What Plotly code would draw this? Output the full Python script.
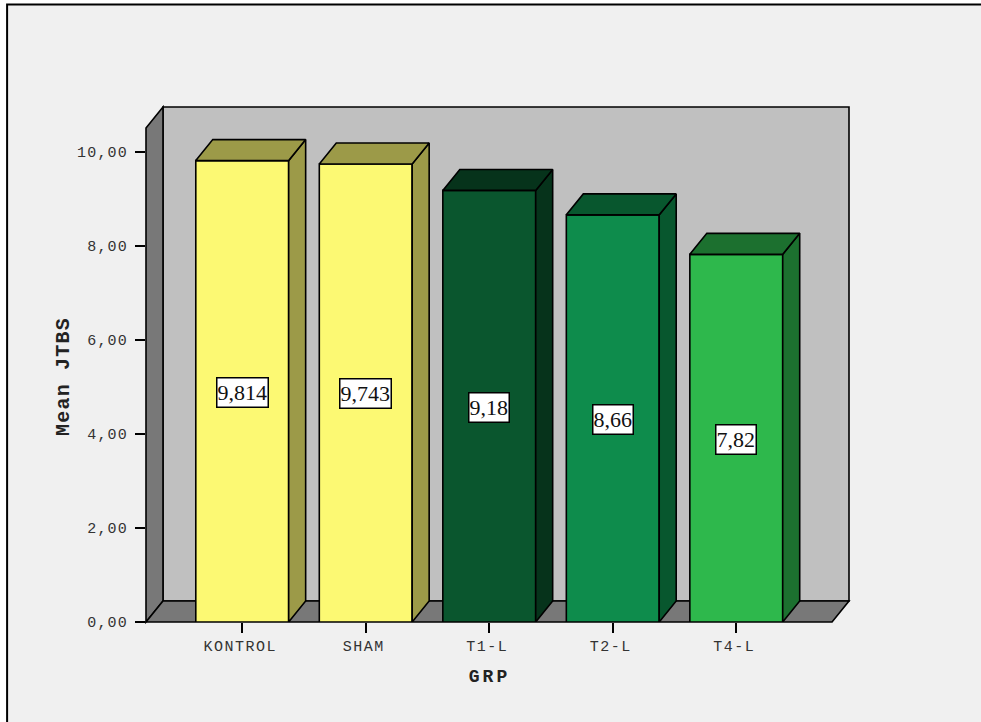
import plotly.graph_objects as go

# Mean JTBS by group
categories = ["KONTROL", "SHAM", "T1-L", "T2-L", "T4-L"]
means = [9.814, 9.743, 9.18, 8.66, 7.82]
front_colors = ["#FCF973", "#FCF973", "#0A562E", "#0E8C4C", "#2EB84C"]
shade_colors = ["#9C9A48", "#9C9A48", "#06331B", "#08572E", "#1C702F"]
y_ticks = [0, 2, 4, 6, 8, 10]

# Plot frame in pixels and the scale of each axis
LEFT, RIGHT, TOP, BOTTOM = 146, 849.5, 106.5, 622
PX_PER_CAT = 123.6
PX_PER_UNIT = 47.06
FIRST_CENTER = 242.3
DEPTH_X, DEPTH_Y = 17, 21
BAR_WIDTH = 0.752
EDGE = 1.6

x_range = [(LEFT - FIRST_CENTER) / PX_PER_CAT, (RIGHT - FIRST_CENTER) / PX_PER_CAT]
y_range = [0, (BOTTOM - TOP) / PX_PER_UNIT]
dx = DEPTH_X / PX_PER_CAT
dy = DEPTH_Y / PX_PER_UNIT
positions = list(range(len(categories)))


def frame_path(points):
    """Closed SVG path in paper fractions, so the 3D frame's outline is not clipped."""
    coords = []
    for px, py in points:
        coords.append(f"{(px - LEFT) / (RIGHT - LEFT):.5f},{(BOTTOM - py) / (BOTTOM - TOP):.5f}")
    return "M" + " L".join(coords) + " Z"


def frame_shape(points, fill):
    return dict(type="path", xref="paper", yref="paper", layer="below", path=frame_path(points),
                fillcolor=fill, line=dict(color="black", width=EDGE))


shapes = [
    # chart panel with its top and left rule
    dict(type="rect", xref="paper", yref="paper", layer="below",
         x0=(7 - LEFT) / (RIGHT - LEFT), x1=(990 - LEFT) / (RIGHT - LEFT),
         y0=(BOTTOM - 730) / (BOTTOM - TOP), y1=(BOTTOM - 4) / (BOTTOM - TOP),
         fillcolor="#F0F0F0", line=dict(color="black", width=2)),
    # back wall, side wall and floor
    frame_shape([(LEFT + DEPTH_X, TOP), (RIGHT, TOP), (RIGHT, BOTTOM - DEPTH_Y), (LEFT + DEPTH_X, BOTTOM - DEPTH_Y)], "#C0C0C0"),
    frame_shape([(LEFT, TOP + DEPTH_Y), (LEFT + DEPTH_X, TOP), (LEFT + DEPTH_X, BOTTOM - DEPTH_Y), (LEFT, BOTTOM)], "#787878"),
    frame_shape([(LEFT, BOTTOM), (LEFT + DEPTH_X, BOTTOM - DEPTH_Y), (RIGHT, BOTTOM - DEPTH_Y), (RIGHT - DEPTH_X, BOTTOM)], "#787878"),
]

fig = go.Figure()

# front faces
fig.add_trace(go.Bar(
    x=positions, y=means, width=BAR_WIDTH, cliponaxis=False, showlegend=False, hoverinfo="skip",
    marker=dict(color=front_colors, line=dict(color="black", width=EDGE)),
))

# side and top faces, offset by the extrusion depth
half = BAR_WIDTH / 2
for pos, mean, shade in zip(positions, means, shade_colors):
    left, right = pos - half, pos + half
    fig.add_trace(go.Scatter(
        x=[right, right + dx, right + dx, right, right],
        y=[0, dy, mean + dy, mean, 0],
        mode="lines", fill="toself", fillcolor=shade, cliponaxis=False, showlegend=False, hoverinfo="skip",
        line=dict(color="black", width=EDGE),
    ))
    fig.add_trace(go.Scatter(
        x=[left, left + dx, right + dx, right, left],
        y=[mean, mean + dy, mean + dy, mean, mean],
        mode="lines", fill="toself", fillcolor=shade, cliponaxis=False, showlegend=False, hoverinfo="skip",
        line=dict(color="black", width=EDGE),
    ))

# value labels at the middle of each bar
annotations = [
    dict(x=pos, y=mean / 2, yshift=-1, text=str(mean).replace(".", ","), showarrow=False,
         font=dict(family="Liberation Serif", size=22, color="#111111"),
         height=28, bgcolor="white", bordercolor="black", borderwidth=1.5, borderpad=0)
    for pos, mean in zip(positions, means)
]

fig.update_layout(
    width=981, height=722, autosize=False,
    margin=dict(l=LEFT, r=981 - RIGHT, t=TOP, b=722 - BOTTOM),
    paper_bgcolor="white", plot_bgcolor="rgba(0,0,0,0)",
    shapes=shapes, annotations=annotations, showlegend=False,
    xaxis=dict(range=x_range, tickmode="array", tickvals=positions, ticktext=categories,
               showgrid=False, zeroline=False, showline=False,
               ticks="outside", ticklen=10, tickwidth=2, tickcolor="black",
               ticklabelstandoff=0,
               tickfont=dict(family="Liberation Mono", size=15, color="#333333"),
               title=dict(text="GRP", standoff=14,
                          font=dict(family="Liberation Mono", size=18, color="#222222", weight="bold"))),
    yaxis=dict(range=y_range, tickmode="array", tickvals=y_ticks,
               ticktext=[f"{t},00" for t in y_ticks],
               showgrid=False, zeroline=False, showline=False,
               ticks="outside", ticklen=10, tickwidth=2, tickcolor="black",
               ticklabelstandoff=4,
               tickfont=dict(family="Liberation Mono", size=15, color="#333333"),
               title=dict(text="Mean JTBS", standoff=9,
                          font=dict(family="Liberation Mono", size=20, color="#222222", weight="bold"))),
)

# Wide tracking on the monospaced axis text, and title placement off the plot centre
post_script = """
var gd = document.getElementById('{plot_id}');
function nudge(t, x, y) {
  t.setAttribute('transform', 'translate(' + x + ',' + y + ') ' + (t.getAttribute('transform') || ''));
}
gd.querySelectorAll('.ytick text').forEach(function (t) { t.style.letterSpacing = '1.2px'; });
gd.querySelectorAll('.xtick text').forEach(function (t) { t.style.letterSpacing = '1.5px'; nudge(t, -2, 0); });
gd.querySelectorAll('.xtitle').forEach(function (t) { t.style.letterSpacing = '3px'; nudge(t, -8, 0); });
gd.querySelectorAll('.ytitle').forEach(function (t) { t.style.letterSpacing = '1.2px'; nudge(t, 2, 12); });
"""

fig.write_html("out.html", post_script=post_script, config={"displayModeBar": False})
